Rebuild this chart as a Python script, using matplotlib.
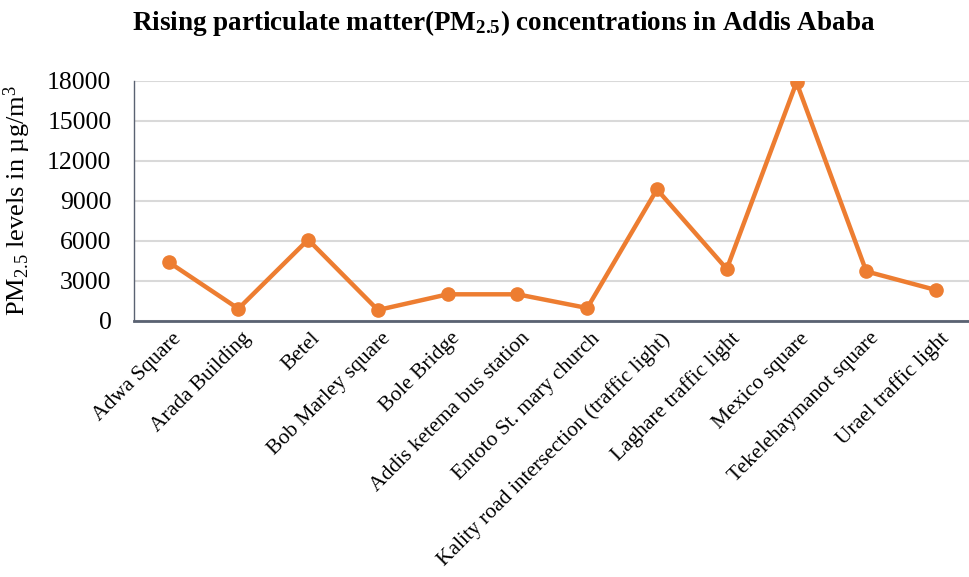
import matplotlib
matplotlib.use("Agg")
import matplotlib.pyplot as plt
import matplotlib.transforms as mtransforms

plt.rcParams['font.family'] = ['Liberation Serif', 'DejaVu Serif']
plt.rcParams['mathtext.fontset'] = 'custom'
plt.rcParams['mathtext.rm'] = 'Liberation Serif'
plt.rcParams['mathtext.it'] = 'Liberation Serif:italic'
plt.rcParams['mathtext.bf'] = 'Liberation Serif:bold'

sites = [
    "Adwa Square", "Arada Building", "Betel", "Bob Marley square",
    "Bole Bridge", "Addis ketema bus station", "Entoto St. mary church",
    "Kality road intersection (traffic light)", "Laghare traffic light",
    "Mexico square", "Tekelehaymanot square", "Urael traffic light",
]
pm25 = [4400, 900, 6080, 800, 1980, 1980, 950, 9850, 3880, 17880, 3700, 2300]
yticks = [0, 3000, 6000, 9000, 12000, 15000, 18000]

fig = plt.figure(figsize=(9.69, 5.77), dpi=100)
ax = fig.add_axes([0.138, 0.4442, 0.864, 0.4158])

x = list(range(len(sites)))
ax.plot(x, pm25, color='#ED7D31', linewidth=3.2, marker='o',
        markersize=9.5, solid_joinstyle='round', zorder=3)

ax.set_xlim(-0.5, len(sites) - 0.5)
ax.set_ylim(0, 18000)
ax.set_yticks(yticks)
ax.set_yticklabels([str(v) for v in yticks], fontsize=18.5)
ax.yaxis.grid(True, color='#D9D9D9', linewidth=1.5)
ax.set_axisbelow(True)
ax.tick_params(axis='both', length=0)
ax.tick_params(axis='y', pad=16)

ax.set_xticks(x)
ax.set_xticklabels(sites, fontsize=15.5, rotation=45, ha='right',
                   rotation_mode='anchor')
ax.tick_params(axis='x', pad=6)
shift = mtransforms.ScaledTranslation(3 / 100, 0, fig.dpi_scale_trans)
for lbl in ax.get_xticklabels():
    lbl.set_transform(lbl.get_transform() + shift)

for side in ('top', 'right'):
    ax.spines[side].set_visible(False)
ax.spines['left'].set_color('#5A6272')
ax.spines['left'].set_linewidth(1.0)
ax.spines['bottom'].set_color('#5A6272')
ax.spines['bottom'].set_linewidth(2.0)

ax.set_ylabel(r'PM$_{2.5}$ levels in µg/m$^3$', fontsize=19, labelpad=10)

fig.text(0.52, 0.96, r'Rising particulate matter(PM$_{\mathbf{2.5}}$) concentrations in Addis Ababa',
         ha='center', va='center', fontsize=19.5, fontweight='bold')

fig.savefig('out.png', dpi=100)
